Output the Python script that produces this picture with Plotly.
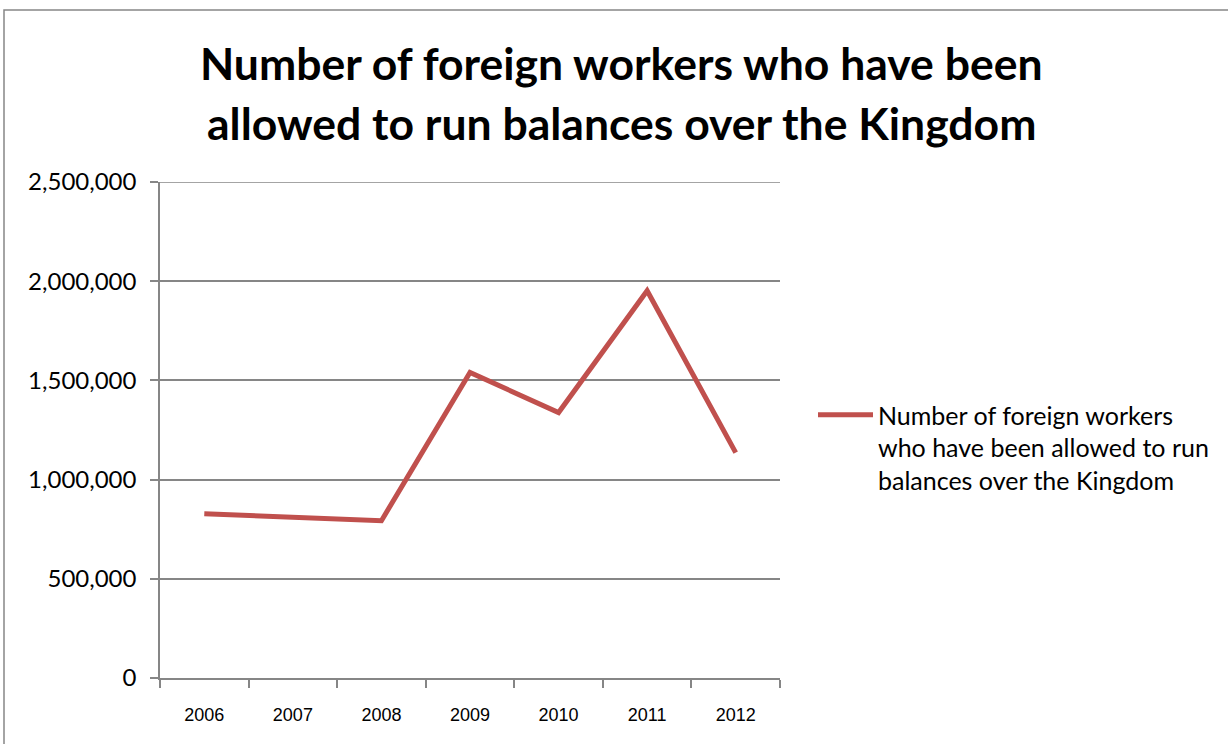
import plotly.graph_objects as go

# Annual counts of foreign workers permitted to run balances over the Kingdom
years = ["2006", "2007", "2008", "2009", "2010", "2011", "2012"]
workers = [828000, 810000, 793000, 1540000, 1338000, 1952000, 1136000]

series_name = "Number of foreign workers<br>who have been allowed to run<br>balances over the Kingdom"
title_lines = ["Number of foreign workers who have been",
               "allowed to run balances over the Kingdom"]
y_ticks = [0, 500000, 1000000, 1500000, 2000000, 2500000]
y_max = 2500000

W, H = 1228, 744
L, R, T, B = 160, 448, 182, 66
pw, ph = W - L - R, H - T - B

def px_x(x):
    return (x - L) / pw

def px_y(y):
    return (H - B - y) / ph

grey = "#868686"
red = "#C0504D"

fig = go.Figure()
fig.add_trace(go.Scatter(
    x=years, y=workers, mode="lines", name=series_name,
    line=dict(color=red, width=5, shape="linear"),
    hoverinfo="x+y",
))

annotations = []
for i, line in enumerate(title_lines):
    annotations.append(dict(
        text=f"<b>{line}</b>", x=px_x(621), y=px_y(63 + i * 59),
        xref="paper", yref="paper", xanchor="center", yanchor="middle",
        showarrow=False, font=dict(family="Lato", size=44.5, color="#000000"),
    ))

shapes = [
    # outer chart frame
    dict(type="rect", xref="paper", yref="paper",
         x0=px_x(4), x1=px_x(1240), y0=px_y(760), y1=px_y(10),
         line=dict(color=grey, width=1.5), fillcolor="rgba(0,0,0,0)",
         layer="below"),
    # gridline at the top of the value range
    dict(type="line", xref="paper", yref="y", x0=0, x1=1, y0=y_max, y1=y_max,
         line=dict(color=grey, width=1.5), layer="below"),
]

fig.update_layout(
    width=W, height=H,
    margin=dict(l=L, r=R, t=T, b=B, pad=0),
    paper_bgcolor="white", plot_bgcolor="white",
    annotations=annotations,
    shapes=shapes,
    showlegend=True,
    legend=dict(x=px_x(813), y=px_y(392), xanchor="left", yanchor="top",
                valign="top",
                font=dict(family="Lato", size=25, color="#000000"),
                bgcolor="rgba(0,0,0,0)", borderwidth=0, itemwidth=55),
    xaxis=dict(
        type="category", range=[-0.5, 6.5], tickson="boundaries",
        showline=True, linecolor=grey, linewidth=1.5,
        ticks="outside", ticklen=8, tickcolor=grey, tickwidth=1.5,
        showgrid=False, zeroline=False,
        tickfont=dict(family="Liberation Sans", size=18, color="#000000"),
        ticklabelstandoff=20,
    ),
    yaxis=dict(
        range=[0, y_max], tickvals=y_ticks,
        tickformat=",d",
        showline=True, linecolor=grey, linewidth=1.5,
        ticks="outside", ticklen=8, tickcolor=grey, tickwidth=1.5,
        showgrid=True, gridcolor=grey, gridwidth=1.5, zeroline=False,
        tickfont=dict(family="Lato", size=24, color="#000000"),
        ticklabelstandoff=9,
    ),
)

fig.write_html("out.html")
